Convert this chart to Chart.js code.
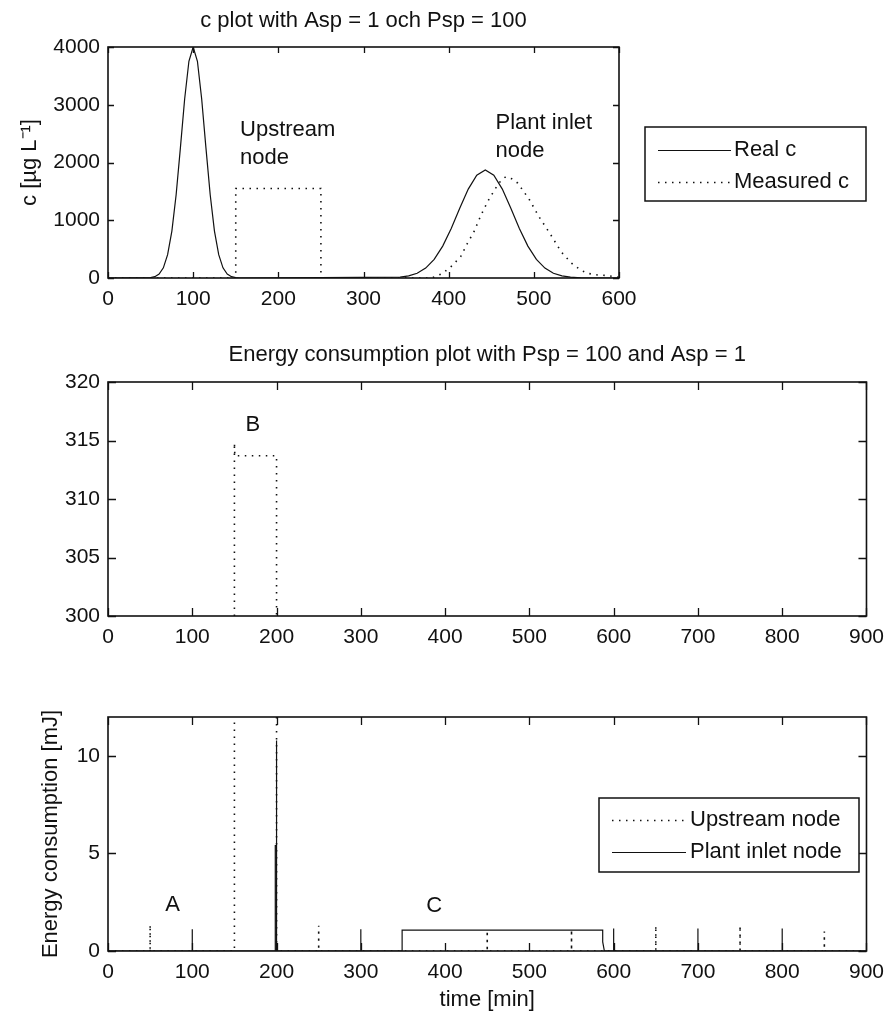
<!DOCTYPE html>
<html><head><meta charset="utf-8">
<script src="https://cdn.jsdelivr.net/npm/chart.js@4.4.1/dist/chart.umd.min.js"></script>
<style>
html,body{margin:0;padding:0;background:#fff;}
#wrap{position:relative;width:893px;height:1016px;overflow:hidden;background:#fff;}
canvas{position:absolute;left:0;}
</style></head><body>
<div id="wrap">
<canvas id="c1" width="893" height="320" style="top:0px"></canvas>
<canvas id="c2" width="893" height="320" style="top:330px"></canvas>
<canvas id="c3" width="893" height="366" style="top:650px"></canvas>
</div>
<script>
// ---------- data ----------
// Top plot: concentration c [µg/L] vs time [min]
const realCX = [0, 50, 55, 60, 65, 70, 75, 80, 85, 90, 95, 100, 105, 110, 115, 120, 125, 130, 135, 140, 145, 150, 155,
  343, 353, 363, 373, 383, 393, 403, 413, 423, 433, 443, 453, 463, 473, 483, 493, 503, 513, 523, 533, 543, 555, 600];
const realCY = [0, 7, 23, 68, 176, 403, 812, 1442, 2253, 3099, 3753, 4000, 3753, 3099, 2253, 1442, 812, 403, 176, 68, 23, 7, 0,
  14, 36, 82, 171, 322, 552, 856, 1206, 1539, 1781, 1870, 1781, 1539, 1206, 856, 552, 322, 171, 82, 36, 14, 3, 0];
const measCX = [0, 150, 150, 250, 250, 380, 385, 393, 404, 414, 422, 430, 438, 446, 455, 461, 467, 474, 481, 488, 495, 506, 520, 532, 544, 555, 563, 575, 585, 595, 600];
const measCY = [0, 0, 1550, 1550, 0, 0, 30, 81, 213, 369, 600, 810, 1090, 1330, 1553, 1680, 1754, 1720, 1645, 1500, 1351, 1062, 745, 455, 260, 138, 81, 52, 45, 20, 10];

// Energy consumption [mJ] vs time [min]
const upstreamX = [0, 50, 50, 50, 150, 150, 150.5, 200, 200, 250, 250, 250, 450, 450, 450, 550, 550, 550, 650, 650, 650, 750, 750, 750, 850, 850, 850, 900];
const upstreamY = [0, 0, 1.35, 0, 0, 314.8, 313.7, 313.7, 0, 0, 1.3, 0, 0, 1.05, 0, 0, 1.1, 0, 0, 1.3, 0, 0, 1.3, 0, 0, 1.0, 0, 0];
const plantX = [0, 100, 100, 100, 198.5, 198.5, 200, 200, 200, 300, 300, 300, 349, 349, 587, 587, 589, 600, 600, 600, 700, 700, 700, 800, 800, 800, 900];
const plantY = [0, 0, 1.12, 0, 0, 5.4, 5.4, 10.8, 0, 0, 1.12, 0, 0, 1.07, 1.07, 0.47, 0, 0, 1.15, 0, 0, 1.15, 0, 0, 1.15, 0, 0];

// tick values
const cXTicks = [0, 100, 200, 300, 400, 500, 600];
const cYTicks = [0, 1000, 2000, 3000, 4000];
const eXTicks = [0, 100, 200, 300, 400, 500, 600, 700, 800, 900];
const zoomYTicks = [300, 305, 310, 315, 320];
const eYTicks = [0, 5, 10];

// texts
const titleTop = 'c plot with Asp = 1 och Psp = 100';
const titleMid = 'Energy consumption plot with Psp = 100 and Asp = 1';
const cLabels = ['Real c', 'Measured c'];
const eLabels = ['Upstream node', 'Plant inlet node'];

// ---------- styling ----------
const FONT = '"Liberation Sans", Arial, Helvetica, sans-serif';
const INK = '#111';
Chart.defaults.font.family = FONT;
Chart.defaults.color = INK;
const DOT = [1.5, 5.5];

function pts(xs, ys) { return xs.map((x, i) => ({ x: x, y: ys[i] })); }
function setTicks(vals) { return s => { s.ticks = vals.map(v => ({ value: v })); }; }
const plainNum = v => String(v);

const matlabPlugin = {
  id: 'matlab',
  afterDatasetsDraw(chart, args, o) {
    const { ctx, chartArea: a, scales } = chart;
    const sx = scales.x, sy = scales.y;
    ctx.save();
    ctx.strokeStyle = INK;
    // inward ticks on all four sides
    const tl = o.tickLen || 8;
    ctx.lineWidth = 1.3;
    ctx.beginPath();
    sx.ticks.forEach(t => {
      const p = Math.round(sx.getPixelForValue(t.value)) + 0.5;
      ctx.moveTo(p, a.bottom); ctx.lineTo(p, a.bottom - tl);
      ctx.moveTo(p, a.top); ctx.lineTo(p, a.top + tl);
    });
    sy.ticks.forEach(t => {
      const p = Math.round(sy.getPixelForValue(t.value)) + 0.5;
      ctx.moveTo(a.left, p); ctx.lineTo(a.left + tl, p);
      ctx.moveTo(a.right, p); ctx.lineTo(a.right - tl, p);
    });
    ctx.stroke();
    ctx.lineWidth = 1.6;
    ctx.strokeRect(a.left, a.top, a.right - a.left, a.bottom - a.top);
    // title
    ctx.fillStyle = INK;
    ctx.font = '22px ' + FONT;
    ctx.textBaseline = 'middle';
    if (o.title) { ctx.textAlign = 'center'; ctx.fillText(o.title, (a.left + a.right) / 2, o.titleY); }
    // annotations (data coordinates)
    (o.notes || []).forEach(n => {
      ctx.textAlign = n.align || 'left';
      const x = sx.getPixelForValue(n.x), y = sy.getPixelForValue(n.y);
      n.lines.forEach((ln, i) => ctx.fillText(ln, x, y + i * 28));
    });
    // legend
    const L = o.legend;
    if (L) {
      ctx.fillStyle = '#fff';
      ctx.fillRect(L.x, L.y, L.w, L.h);
      ctx.lineWidth = 1.5;
      ctx.strokeStyle = INK;
      ctx.strokeRect(L.x, L.y, L.w, L.h);
      L.items.forEach((di, i) => {
        const ds = chart.data.datasets[di];
        const y = L.rows[i];
        ctx.save();
        ctx.setLineDash(ds.borderDash || []);
        ctx.lineWidth = ds.borderWidth;
        ctx.strokeStyle = ds.borderColor;
        ctx.beginPath(); ctx.moveTo(L.s0, y + 0.5); ctx.lineTo(L.s1, y + 0.5); ctx.stroke();
        ctx.restore();
        ctx.fillStyle = INK;
        ctx.textAlign = 'left';
        ctx.fillText(ds.label, L.tx, y);
      });
    }
    ctx.restore();
  }
};

function makeChart(id, cfg) {
  const datasets = cfg.series.map(s => ({
    label: s.label, data: s.data, borderColor: INK, borderWidth: s.dotted ? 1.6 : 1.2,
    borderDash: s.dotted ? DOT : [], pointRadius: 0, tension: 0, fill: false, borderCapStyle: 'butt'
  }));
  return new Chart(document.getElementById(id), {
    type: 'line',
    data: { datasets: datasets },
    plugins: [matlabPlugin],
    options: {
      responsive: false, animation: false, parsing: true,
      layout: { padding: { left: 0, right: cfg.padRight, top: cfg.top, bottom: 0 } },
      plugins: {
        legend: { display: false }, title: { display: false }, tooltip: { enabled: false },
        matlab: cfg.matlab
      },
      scales: {
        x: {
          type: 'linear', min: cfg.xMin, max: cfg.xMax,
          afterBuildTicks: setTicks(cfg.xTicks),
          afterFit: s => { s.height = cfg.xH; },
          grid: { display: false, drawTicks: false }, border: { display: false },
          ticks: { padding: 9, font: { size: 21 }, color: INK, maxRotation: 0, autoSkip: false, callback: plainNum },
          title: cfg.xTitle ? { display: true, text: cfg.xTitle, font: { size: 22 }, color: INK, padding: { top: 0, bottom: cfg.xTitlePad } } : { display: false }
        },
        y: {
          type: 'linear', min: cfg.yMin, max: cfg.yMax,
          afterBuildTicks: setTicks(cfg.yTicks),
          afterFit: s => { s.width = 108; },
          grid: { display: false, drawTicks: false }, border: { display: false },
          ticks: { padding: 8, font: { size: 21 }, color: INK, autoSkip: false, callback: plainNum },
          title: cfg.yTitle ? { display: true, text: cfg.yTitle, font: { size: 22 }, color: INK, padding: { top: cfg.yTitlePad, bottom: 0 } } : { display: false }
        }
      }
    }
  });
}

// Top chart
makeChart('c1', {
  series: [
    { label: cLabels[0], data: pts(realCX, realCY), dotted: false },
    { label: cLabels[1], data: pts(measCX, measCY), dotted: true }
  ],
  padRight: 274, top: 47, xH: 42,
  xMin: 0, xMax: 600, yMin: 0, yMax: 4000, xTicks: cXTicks, yTicks: cYTicks,
  yTitle: 'c [µg L⁻¹]', yTitlePad: 17,
  matlab: {
    tickLen: 6, title: titleTop, titleY: 21,
    notes: [{ x: 155, y: 2563, lines: ['Upstream', 'node'] }, { x: 455, y: 2684, lines: ['Plant inlet', 'node'] }],
    legend: { x: 645, y: 127, w: 221, h: 74, s0: 658, s1: 731, tx: 734, rows: [150, 182], items: [0, 1] }
  }
});

// Middle chart (zoom of energy)
makeChart('c2', {
  series: [
    { label: eLabels[0], data: pts(upstreamX, upstreamY), dotted: true },
    { label: eLabels[1], data: pts(plantX, plantY), dotted: false }
  ],
  padRight: 21, top: 52, xH: 34,
  xMin: 0, xMax: 900, yMin: 300, yMax: 320, xTicks: eXTicks, yTicks: zoomYTicks,
  matlab: {
    tickLen: 8, title: titleMid, titleY: 25,
    notes: [{ x: 172, y: 316.3, lines: ['B'], align: 'center' }]
  }
});

// Bottom chart
makeChart('c3', {
  series: [
    { label: eLabels[0], data: pts(upstreamX, upstreamY), dotted: true },
    { label: eLabels[1], data: pts(plantX, plantY), dotted: false }
  ],
  padRight: 21, top: 67, xH: 65,
  xMin: 0, xMax: 900, yMin: 0, yMax: 12, xTicks: eXTicks, yTicks: eYTicks,
  xTitle: 'time [min]', xTitlePad: 3,
  yTitle: 'Energy consumption [mJ]', yTitlePad: 38,
  matlab: {
    tickLen: 8,
    notes: [{ x: 76.5, y: 2.35, lines: ['A'], align: 'center' }, { x: 387, y: 2.3, lines: ['C'], align: 'center' }],
    legend: { x: 599, y: 148, w: 260, h: 74, s0: 612, s1: 686, tx: 690, rows: [170, 202], items: [0, 1] }
  }
});
</script>
</body></html>
